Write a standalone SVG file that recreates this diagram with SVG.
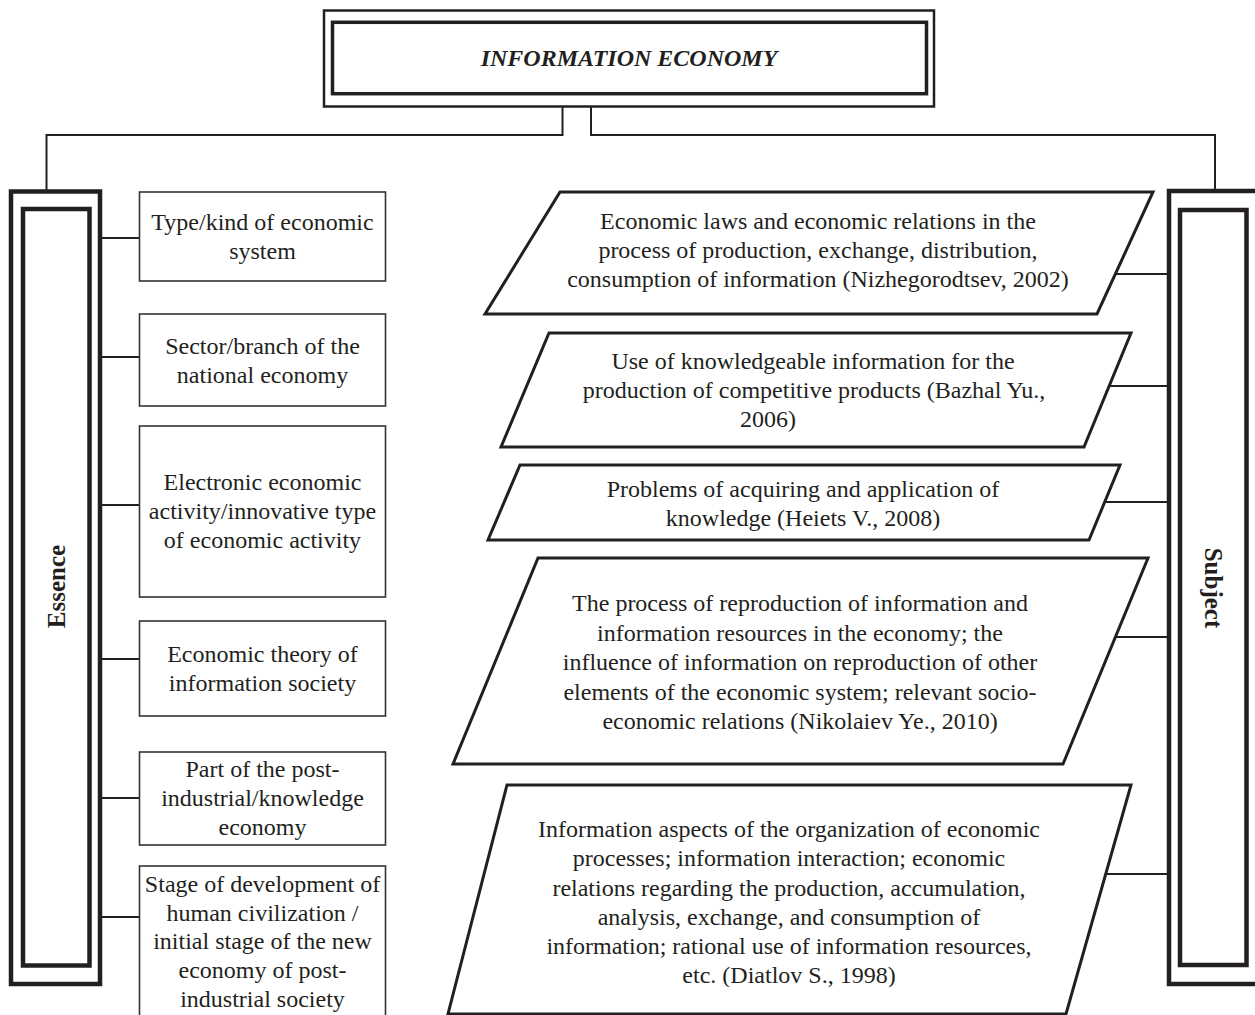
<svg xmlns="http://www.w3.org/2000/svg" width="1255" height="1015" viewBox="0 0 1255 1015">
<style>
text{font-family:"Liberation Serif","Times New Roman",serif;fill:#231f20}
.t{font-size:24px;text-anchor:middle}
.lab{font-size:25px;font-weight:bold;text-anchor:middle}
.box{fill:#fff;stroke:#333;stroke-width:1.6}
.par{fill:#fff;stroke:#231f20;stroke-width:3}
.thick{fill:none;stroke:#231f20;stroke-width:4.5}
.con{fill:none;stroke:#231f20;stroke-width:2}
</style>
<defs>
<clipPath id="c3"><rect x="400" y="440" width="800" height="94"/></clipPath>
<clipPath id="c5"><rect x="400" y="780" width="800" height="207"/></clipPath>
</defs>
<rect width="1255" height="1015" fill="#fff"/>
<g id="connectors">
<polyline class="con" points="562.5,107 562.5,135 46.5,135 46.5,190"/>
<polyline class="con" points="591,107 591,135 1215,135 1215,189"/>
<line class="con" x1="102" y1="238" x2="139" y2="238"/>
<line class="con" x1="102" y1="357" x2="139" y2="357"/>
<line class="con" x1="102" y1="505" x2="139" y2="505"/>
<line class="con" x1="102" y1="659" x2="139" y2="659"/>
<line class="con" x1="102" y1="798" x2="139" y2="798"/>
<line class="con" x1="102" y1="917" x2="139" y2="917"/>
<line class="con" x1="1116" y1="274" x2="1167" y2="274"/>
<line class="con" x1="1109" y1="386" x2="1167" y2="386"/>
<line class="con" x1="1105" y1="502" x2="1167" y2="502"/>
<line class="con" x1="1115" y1="637" x2="1167" y2="637"/>
<line class="con" x1="1106" y1="874" x2="1167" y2="874"/>
</g>
<g id="title">
<rect x="324" y="10.5" width="610" height="96" fill="#fff" stroke="#231f20" stroke-width="2.5"/>
<rect x="332.5" y="22.3" width="594" height="71.4" fill="none" stroke="#231f20" stroke-width="3.5"/>
<text x="629" y="66" style="font-size:24px;font-weight:bold;font-style:italic;text-anchor:middle">INFORMATION ECONOMY</text>
</g>
<g id="essence">
<rect class="thick" x="11" y="191.5" width="89" height="792.5"/>
<rect class="thick" x="23" y="209" width="66.5" height="756.5"/>
<text class="lab" transform="translate(65,586.5) rotate(-90)">Essence</text>
</g>
<g id="subject">
<rect class="thick" x="1169" y="191" width="90" height="793"/>
<rect class="thick" x="1180" y="210" width="66.5" height="755"/>
<text class="lab" transform="translate(1205,588) rotate(90)">Subject</text>
</g>
<g id="e1"><rect class="box" x="139.5" y="192" width="246" height="89"/>
<text class="t" x="262.5" y="230">Type/kind of economic</text><text class="t" x="262.5" y="259">system</text></g>
<g id="e2"><rect class="box" x="139.5" y="314" width="246" height="92"/>
<text class="t" x="262.5" y="354">Sector/branch of the</text><text class="t" x="262.5" y="383">national economy</text></g>
<g id="e3"><rect class="box" x="139.5" y="426" width="246" height="171"/>
<text class="t" x="262.5" y="490">Electronic economic</text><text class="t" x="262.5" y="519">activity/innovative type</text><text class="t" x="262.5" y="548">of economic activity</text></g>
<g id="e4"><rect class="box" x="139.5" y="621" width="246" height="95"/>
<text class="t" x="262.5" y="662">Economic theory of</text><text class="t" x="262.5" y="691">information society</text></g>
<g id="e5"><rect class="box" x="139.5" y="752" width="246" height="93"/>
<text class="t" x="262.5" y="777">Part of the post-</text><text class="t" x="262.5" y="806">industrial/knowledge</text><text class="t" x="262.5" y="835">economy</text></g>
<g id="e6"><rect class="box" x="139.5" y="866" width="246" height="160"/>
<text class="t" x="262.5" y="892">Stage of development of</text><text class="t" x="262.5" y="920.7">human civilization /</text><text class="t" x="262.5" y="949.4">initial stage of the new</text><text class="t" x="262.5" y="978">economy of post-</text><text class="t" x="262.5" y="1006.7">industrial society</text></g>
<g id="s1"><polygon class="par" points="560,192 1153,192 1097,314 485,314"/>
<text class="t" x="818" y="228.5">Economic laws and economic relations in the</text>
<text class="t" x="818" y="257.5">process of production, exchange, distribution,</text>
<text class="t" x="818" y="286.5">consumption of information (Nizhegorodtsev, 2002)</text></g>
<g id="s2"><polygon class="par" points="549,333 1131,333 1084,447 501,447"/>
<text class="t" x="813" y="368.5">Use of knowledgeable information for the</text>
<text class="t" x="814" y="397.5">production of competitive products (Bazhal Yu.,</text>
<text x="740" y="426.5" style="font-size:24px">2006)</text></g>
<g id="s3"><polygon class="par" points="520,465 1120,465 1089,540 488,540"/>
<g clip-path="url(#c3)"><text class="t" x="803" y="497">Problems of acquiring and application of</text>
<text class="t" x="803" y="526">knowledge (Heiets V., 2008)</text></g></g>
<g id="s4"><polygon class="par" points="538,558 1148,558 1063,764 453,764"/>
<text class="t" x="800" y="611">The process of reproduction of information and</text>
<text class="t" x="800" y="640.5">information resources in the economy; the</text>
<text class="t" x="800" y="670">influence of information on reproduction of other</text>
<text class="t" x="800" y="699.5">elements of the economic system; relevant socio-</text>
<text class="t" x="800" y="729">economic relations (Nikolaiev Ye., 2010)</text></g>
<g id="s5"><polygon class="par" points="507,785 1131,785 1066,1014 448,1014"/>
<g clip-path="url(#c5)"><text class="t" x="789" y="837">Information aspects of the organization of economic</text>
<text class="t" x="789" y="866">processes; information interaction; economic</text>
<text class="t" x="789" y="895.5">relations regarding the production, accumulation,</text>
<text class="t" x="789" y="925">analysis, exchange, and consumption of</text>
<text class="t" x="789" y="954">information; rational use of information resources,</text>
<text class="t" x="789" y="983">etc. (Diatlov S., 1998)</text></g></g>
</svg>
